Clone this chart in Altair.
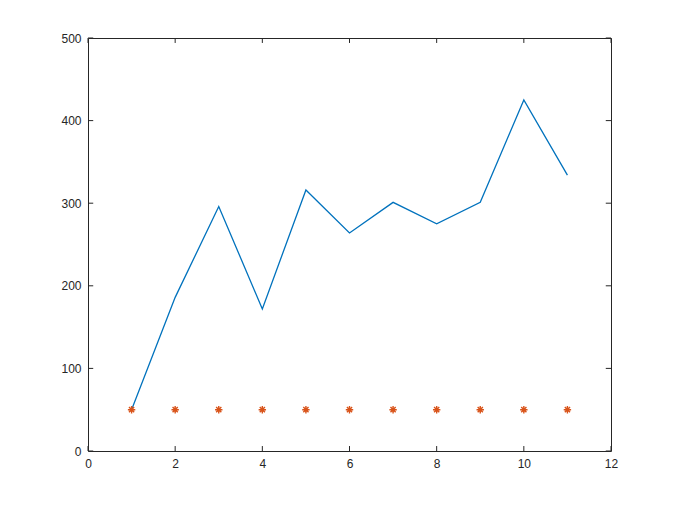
import altair as alt
import pandas as pd

xs = [1, 2, 3, 4, 5, 6, 7, 8, 9, 10, 11]
line_y = [50, 186, 296, 172, 316, 264, 301, 275, 301, 425, 334]
marker_y = [50, 50, 50, 50, 50, 50, 50, 50, 50, 50, 50]
x_ticks = [0, 2, 4, 6, 8, 10, 12]
y_ticks = [0, 100, 200, 300, 400, 500]

df = pd.DataFrame({"x": xs, "y": line_y, "m": marker_y})
xt = pd.DataFrame({"t": x_ticks})
yt = pd.DataFrame({"t": y_ticks})

axis_col = "#262626"
xscale = alt.Scale(domain=[0, 12], nice=False, zero=False)
yscale = alt.Scale(domain=[0, 500], nice=False, zero=False)

xaxis = alt.Axis(values=x_ticks, title=None, ticks=False, grid=False, domain=False,
                 labelFlush=False, labelPadding=7, labelFontSize=12, labelColor=axis_col,
                 labelFont="Liberation Sans")
yaxis = alt.Axis(values=y_ticks, title=None, ticks=False, grid=False, domain=False,
                 labelFlush=False, labelPadding=7, labelFontSize=12, labelColor=axis_col,
                 labelFont="Liberation Sans")

line = alt.Chart(df).mark_line(color="#0072BD", strokeWidth=1.3).encode(
    x=alt.X("x:Q", scale=xscale, axis=xaxis),
    y=alt.Y("y:Q", scale=yscale, axis=yaxis),
)

asterisk = "M-1,0L1,0M0,-1L0,1M-0.7,-0.7L0.7,0.7M-0.7,0.7L0.7,-0.7"
markers = alt.Chart(df).mark_point(shape=asterisk, filled=False, color="#D95319",
                                   size=55, strokeWidth=1.4, opacity=1).encode(
    x=alt.X("x:Q", scale=xscale),
    y=alt.Y("m:Q", scale=yscale),
)

xb = alt.Chart(xt).mark_rule(color=axis_col, strokeWidth=1).encode(
    x=alt.X("t:Q", scale=xscale), y=alt.datum(0), y2=alt.datum(6))
xtp = alt.Chart(xt).mark_rule(color=axis_col, strokeWidth=1).encode(
    x=alt.X("t:Q", scale=xscale), y=alt.datum(500), y2=alt.datum(494))
yl = alt.Chart(yt).mark_rule(color=axis_col, strokeWidth=1).encode(
    y=alt.Y("t:Q", scale=yscale), x=alt.datum(0), x2=alt.datum(0.12))
yr = alt.Chart(yt).mark_rule(color=axis_col, strokeWidth=1).encode(
    y=alt.Y("t:Q", scale=yscale), x=alt.datum(12), x2=alt.datum(11.88))

chart = alt.layer(line, markers, xb, xtp, yl, yr).properties(
    width=523, height=413,
    background="white",
    autosize=alt.AutoSizeParams(type="none"),
    padding={"left": 80, "top": 30, "right": 57, "bottom": 48},
).configure_view(stroke=axis_col, strokeWidth=1)

chart.save("out.html", embed_options={"renderer": "svg", "actions": False})
